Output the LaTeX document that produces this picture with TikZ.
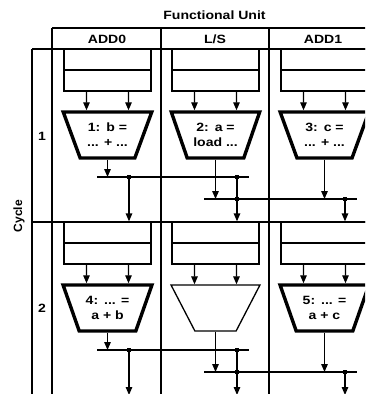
\documentclass[tikz,border=0pt]{standalone}
\usepackage{fontspec}
\setmainfont{Liberation Sans}[FakeStretch=1.17]
\newfontfamily\plainsans{Liberation Sans}
\usetikzlibrary{arrows.meta,shapes.geometric}
\begin{document}
\begin{tikzpicture}[x=1pt,y=-1pt,line width=1.3pt,
  every node/.style={font=\bfseries\fontsize{12}{15}\selectfont},
  reg/.style={draw,minimum width=87pt,minimum height=42pt,inner sep=0pt},
  alu/.style={trapezium,draw,shape border rotate=180,trapezium angle=62,
    trapezium stretches=true,minimum width=89pt,minimum height=46pt,
    inner sep=0pt,align=center,line width=3.4pt},
  aluthin/.style={alu,line width=1.3pt},
  dot/.style={fill,minimum size=4.5pt,inner sep=0pt,outer sep=0pt},
  arr/.style={-{Triangle[length=8pt,width=6.5pt]}},
  lbl/.style={inner sep=0pt}]
\useasboundingbox (0,0) rectangle (365,394);
\clip (0,0) rectangle (365,394);
% grid
\draw (52,28) -- (380,28);
\draw (32,49) -- (380,49);
\draw (32,222) -- (380,222);
\draw (32,49) -- (32,400);
\draw (52,28) -- (52,400);
\draw (161,28) -- (161,400);
\draw (269,28) -- (269,400);
\draw (377,28) -- (377,400);
% labels
\node[lbl] (fu) at (214.5,15) {Functional Unit};
\node[lbl] (h1) at (107,39) {ADD0};
\node[lbl] (h2) at (215,39) {L/S};
\node[lbl] (h3) at (323,39) {ADD1};
\node[lbl,rotate=90,font=\plainsans\bfseries\fontsize{12}{14}\selectfont] (cyc) at (19,216) {Cycle};
\node[lbl] (c1) at (42,136) {1};
\node[lbl] (c2) at (42,308) {2};
% row 1
\node[reg] (r11) at (107.5,70) {};
\node[reg] (r12) at (215.5,70) {};
\node[reg] (r13) at (324.5,70) {};
\node[alu] (t11) at (107.5,135) {1:\enspace b =\\... + ...};
\node[alu] (t12) at (215.5,135) {2:\enspace a =\\load ...};
\node[alu] (t13) at (324.5,135) {3:\enspace c =\\... + ...};
% row 2
\node[reg] (r21) at (107.5,243) {};
\node[reg] (r22) at (215.5,243) {};
\node[reg] (r23) at (324.5,243) {};
\node[alu] (t21) at (107.5,308) {4:\enspace ... =\\a + b};
\node[aluthin] (t22) at (215.5,308) {\phantom{0}};
\node[alu] (t23) at (324.5,308) {5:\enspace ... =\\a + c};
% register midlines and inputs
\foreach \n in {r11,r12,r13,r21,r22,r23}{\draw (\n.west) -- (\n.east);}
\foreach \r/\t in {r11/t11,r12/t12,r13/t13,r21/t21,r22/t22,r23/t23}{
  \draw[arr] ([xshift=-21pt]\r.south) -- ([xshift=-21pt]\t.north);
  \draw[arr] ([xshift=21pt]\r.south) -- ([xshift=21pt]\t.north);
}
% buses row 1
\coordinate (a1w) at (97,177);  \coordinate (a1e) at (249,177);
\coordinate (b1w) at (204,199); \coordinate (b1e) at (357,199);
\draw (a1w) -- (a1e);
\draw (b1w) -- (b1e);
\node[dot] (d11) at (129,177) {};
\node[dot] (d12) at (237,177) {};
\node[dot] (e12) at (237,199) {};
\node[dot] (e13) at (345,199) {};
\draw[arr] (t11.south) -- (t11.south |- a1w);
\draw[arr] (t12.south) -- (t12.south |- b1w);
\draw[arr] (t13.south) -- (t13.south |- b1w);
\draw[arr] (d11.center) -- (d11 |- r21.north);
\draw[arr] (d12.center) -- (d12 |- r22.north);
\draw[arr] (e13.center) -- (e13 |- r23.north);
% buses row 2
\coordinate (a2w) at (97,350);  \coordinate (a2e) at (249,350);
\coordinate (b2w) at (204,372); \coordinate (b2e) at (357,372);
\coordinate (bot) at (0,395);
\draw (a2w) -- (a2e);
\draw (b2w) -- (b2e);
\node[dot] (d21) at (129,350) {};
\node[dot] (d22) at (237,350) {};
\node[dot] (e22) at (237,372) {};
\node[dot] (e23) at (345,372) {};
\draw[arr] (t21.south) -- (t21.south |- a2w);
\draw[arr] (t22.south) -- (t22.south |- b2w);
\draw[arr] (t23.south) -- (t23.south |- b2w);
\draw[arr] (d21.center) -- (d21 |- bot);
\draw[arr] (d22.center) -- (d22 |- bot);
\draw[arr] (e23.center) -- (e23 |- bot);
\end{tikzpicture}
\end{document}
